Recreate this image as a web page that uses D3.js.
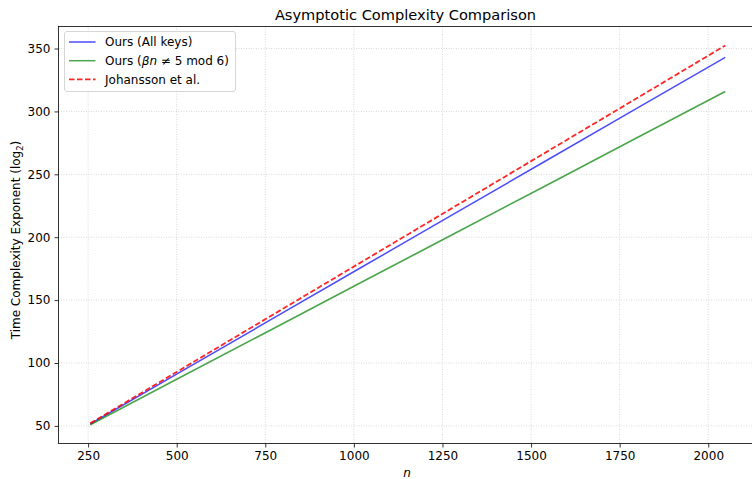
<!DOCTYPE html>
<html><head><meta charset="utf-8">
<script src="https://cdn.jsdelivr.net/npm/d3@7"></script>
<style>body{margin:0;background:#fff}svg{display:block;font-family:"DejaVu Sans",sans-serif}</style>
</head><body><svg id="c" width="752" height="479"></svg>
<script>
const nValues = [256, 512, 768, 1024, 1280, 1536, 1792, 2048];
const oursAll = [51.5, 93.2, 134.8, 176.5, 218.1, 259.8, 301.4, 343.0];
const oursMod = [51.0, 88.8, 126.7, 164.5, 202.4, 240.2, 278.1, 315.9];
const johansson = [52.0, 94.9, 137.8, 180.7, 223.6, 266.5, 309.4, 352.4];
const xTicks = [250, 500, 750, 1000, 1250, 1500, 1750, 2000];
const yTicks = [50, 100, 150, 200, 250, 300, 350];
const seriesNames = ["Ours (All keys)", "Ours (\u03B2n \u2260 5 mod 6)", "Johansson et al."];

const svg = d3.select("#c");
const L = 58.5, R = 757, T = 26.5, B = 443.5;
const x = d3.scaleLinear().domain([166.4, 2137.6]).range([L, R]);
const y = d3.scaleLinear().domain([36.0, 367.5]).range([B, T]);

// grid
const g = svg.append("g");
g.selectAll(".gx").data(xTicks).enter().append("line")
  .attr("x1", d => x(d)).attr("x2", d => x(d)).attr("y1", T).attr("y2", B)
  .attr("stroke", "#b0b0b0").attr("stroke-opacity", 0.6).attr("stroke-width", 0.8).attr("stroke-dasharray", "1,1.5");
g.selectAll(".gy").data(yTicks).enter().append("line")
  .attr("y1", d => y(d)).attr("y2", d => y(d)).attr("x1", L).attr("x2", R)
  .attr("stroke", "#b0b0b0").attr("stroke-opacity", 0.6).attr("stroke-width", 0.8).attr("stroke-dasharray", "1,1.5");

// lines
const line = arr => d3.line().x((d, i) => x(nValues[i])).y(d => y(d))(arr);
svg.append("path").attr("d", line(oursAll)).attr("fill", "none").attr("stroke", "blue").attr("stroke-opacity", 0.7).attr("stroke-width", 1.5);
svg.append("path").attr("d", line(oursMod)).attr("fill", "none").attr("stroke", "green").attr("stroke-opacity", 0.7).attr("stroke-width", 1.7);
svg.append("path").attr("d", line(johansson)).attr("fill", "none").attr("stroke", "red").attr("stroke-opacity", 0.85).attr("stroke-width", 1.8).attr("stroke-dasharray", "5.5,2.5");

// axes
const xAxis = d3.axisBottom(x).tickValues(xTicks).tickSize(4).tickPadding(4).tickFormat(d3.format("d"));
const yAxis = d3.axisLeft(y).tickValues(yTicks).tickSize(4).tickPadding(4).tickFormat(d3.format("d"));
const gx = svg.append("g").attr("transform", `translate(0,${B})`).call(xAxis);
const gy = svg.append("g").attr("transform", `translate(${L},0)`).call(yAxis);
[gx, gy].forEach(a => {
  a.select(".domain").remove();
  a.selectAll("text").attr("font-size", 12).attr("fill", "#000").attr("font-family", "DejaVu Sans");
  a.selectAll("line").attr("stroke", "#000").attr("stroke-width", 0.8);
});
// spines
svg.append("rect").attr("x", L).attr("y", T).attr("width", R - L).attr("height", B - T)
  .attr("fill", "none").attr("stroke", "#000").attr("stroke-width", 0.8);

// title & labels
svg.append("text").attr("x", 405.5).attr("y", 20).attr("text-anchor", "middle").attr("font-size", 14.6).text("Asymptotic Complexity Comparison");
svg.append("text").attr("x", 407).attr("y", 477).attr("text-anchor", "middle").attr("font-size", 12).attr("font-style", "italic").text("n");
const yl = svg.append("text").attr("transform", `translate(20,240) rotate(-90)`).attr("text-anchor", "middle").attr("font-size", 12);
yl.append("tspan").text("Time Complexity Exponent (log");
yl.append("tspan").attr("font-size", 8.5).attr("dy", 2.5).text("2");
yl.append("tspan").attr("dy", -2.5).text(")");

// legend
const lg = svg.append("g");
lg.append("rect").attr("x", 64.5).attr("y", 31.5).attr("width", 171).attr("height", 60).attr("rx", 2.5)
  .attr("fill", "#fff").attr("fill-opacity", 0.8).attr("stroke", "#ccc").attr("stroke-width", 0.8);
const lcolors = ["blue", "green", "red"];
const lop = [0.7, 0.7, 0.85];
seriesNames.forEach((nm, i) => {
  const yy = 42 + i * 18.7;
  lg.append("line").attr("x1", 69).attr("x2", 95.5).attr("y1", yy).attr("y2", yy)
    .attr("stroke", lcolors[i]).attr("stroke-opacity", lop[i]).attr("stroke-width", i === 2 ? 1.8 : 1.5)
    .attr("stroke-dasharray", i === 2 ? "5.5,2.5" : null);
  const t = lg.append("text").attr("x", 105).attr("y", yy + 4.3).attr("font-size", 12);
  if (i === 1) {
    t.append("tspan").text("Ours (");
    t.append("tspan").attr("font-style", "italic").text("\u03B2n");
    t.append("tspan").text(" \u2260 5 mod 6)");
  } else t.text(nm);
});
</script></body></html>
